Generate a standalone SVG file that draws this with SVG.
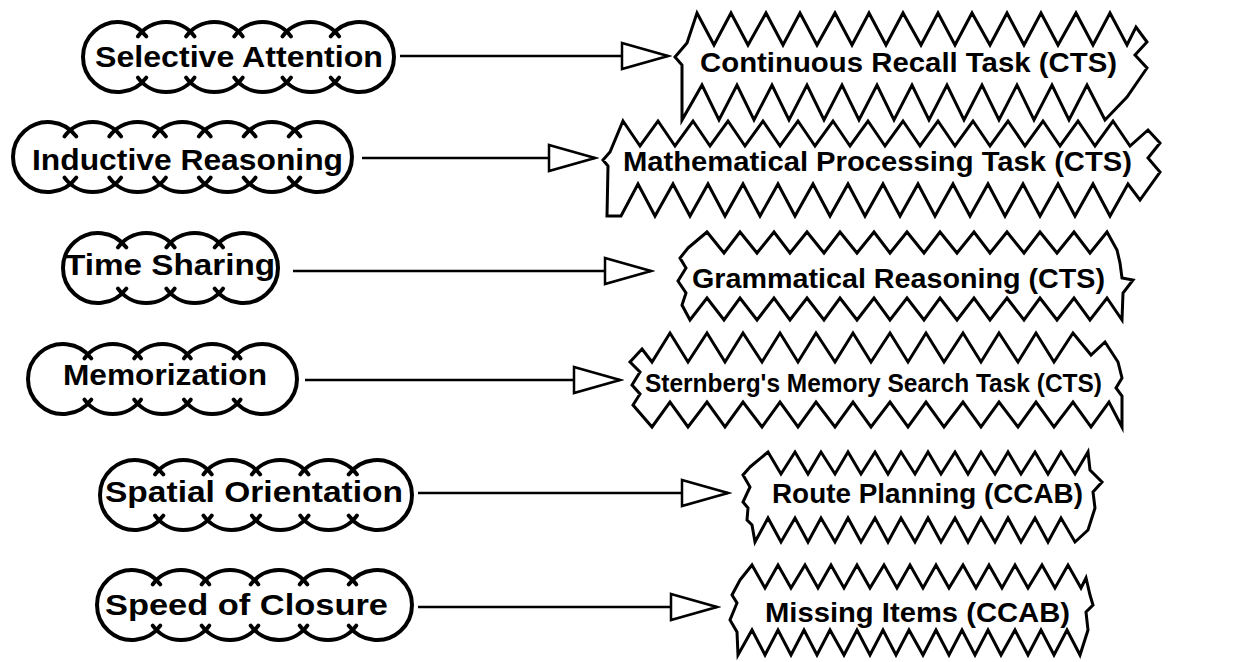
<svg xmlns="http://www.w3.org/2000/svg" xmlns:xlink="http://www.w3.org/1999/xlink" width="1233" height="662" viewBox="0 0 1233 662">
<style>
  .bg { fill: #ffffff; }
  .cloud use { fill: none; stroke: #000; stroke-width: 4; stroke-linecap: round; }
  .zig { fill: #ffffff; stroke: #000; stroke-width: 3; stroke-linejoin: miter; stroke-miterlimit: 10; }
  .lbl { font-family: "Liberation Sans", Arial, Helvetica, sans-serif; font-weight: bold; fill: #000; }
  .ltxt { font-size: 30px; }
  .rtxt { font-size: 27px; }
  .stxt { font-size: 26px; }
  .conn line { stroke: #000; stroke-width: 2.5; marker-end: url(#tri); }
</style>
<defs>
  <path id="cm" d="M-28.3,-20.6 A35,35 0 0 1 28.3,-20.6 M-28.3,20.6 A35,35 0 0 0 28.3,20.6"/>
  <path id="cl" d="M28.3,-20.6 A35,35 0 1 0 28.3,20.6"/>
  <path id="cr" d="M-28.3,-20.6 A35,35 0 1 1 -28.3,20.6"/>
  <marker id="tri" markerUnits="userSpaceOnUse" markerWidth="52" markerHeight="32" viewBox="0 0 52 32" refX="48" refY="16" orient="auto">
    <path d="M2,3 L48,16 L2,29 Z" fill="#fff" stroke="#000" stroke-width="2.5" stroke-linejoin="miter"/>
  </marker>
</defs>
<rect class="bg" x="0" y="0" width="1233" height="662"/>

<g id="connectors" class="conn">
  <line x1="400" y1="56" x2="668" y2="56"/>
  <line x1="362" y1="158" x2="595" y2="158"/>
  <line x1="293" y1="271" x2="651" y2="271"/>
  <line x1="305" y1="380" x2="620" y2="380"/>
  <line x1="418" y1="493" x2="728" y2="493"/>
  <line x1="418" y1="607" x2="717" y2="607"/>
</g>

<g id="selective-attention" class="cloud">
  <use href="#cl" x="118" y="57"/><use href="#cm" x="166.2" y="57"/><use href="#cm" x="214.4" y="57"/><use href="#cm" x="262.6" y="57"/><use href="#cm" x="310.8" y="57"/><use href="#cr" x="359" y="57"/>
  <text class="lbl ltxt" x="95" y="67" textLength="288" lengthAdjust="spacingAndGlyphs">Selective Attention</text>
</g>
<g id="inductive-reasoning" class="cloud">
  <use href="#cl" x="48" y="157"/><use href="#cm" x="92.8" y="157"/><use href="#cm" x="137.6" y="157"/><use href="#cm" x="182.4" y="157"/><use href="#cm" x="227.2" y="157"/><use href="#cm" x="272" y="157"/><use href="#cr" x="317" y="157"/>
  <text class="lbl ltxt" x="32" y="170" textLength="311" lengthAdjust="spacingAndGlyphs">Inductive Reasoning</text>
</g>
<g id="time-sharing" class="cloud">
  <use href="#cl" x="98" y="268"/><use href="#cm" x="146.3" y="268"/><use href="#cm" x="194.7" y="268"/><use href="#cr" x="243" y="268"/>
  <text class="lbl ltxt" x="65" y="275" textLength="210" lengthAdjust="spacingAndGlyphs">Time Sharing</text>
</g>
<g id="memorization" class="cloud">
  <use href="#cl" x="63" y="379"/><use href="#cm" x="112.75" y="379"/><use href="#cm" x="162.5" y="379"/><use href="#cm" x="212.25" y="379"/><use href="#cr" x="262" y="379"/>
  <text class="lbl ltxt" x="63" y="385" textLength="204" lengthAdjust="spacingAndGlyphs">Memorization</text>
</g>
<g id="spatial-orientation" class="cloud">
  <use href="#cl" x="135" y="495"/><use href="#cm" x="183.4" y="495"/><use href="#cm" x="231.8" y="495"/><use href="#cm" x="280.2" y="495"/><use href="#cm" x="328.6" y="495"/><use href="#cr" x="377" y="495"/>
  <text class="lbl ltxt" x="105" y="502" textLength="298" lengthAdjust="spacingAndGlyphs">Spatial Orientation</text>
</g>
<g id="speed-of-closure" class="cloud">
  <use href="#cl" x="132" y="605"/><use href="#cm" x="181" y="605"/><use href="#cm" x="230" y="605"/><use href="#cm" x="279" y="605"/><use href="#cm" x="328" y="605"/><use href="#cr" x="377" y="605"/>
  <text class="lbl ltxt" x="105" y="615" textLength="283" lengthAdjust="spacingAndGlyphs">Speed of Closure</text>
</g>

<g id="continuous-recall">
  <polygon class="zig" points="697,13 714,45 731,13 748,45 766,13 783,45 800,13 817,45 835,13 852,45 869,13 886,45 903,13 921,45 938,13 955,45 972,13 990,45 1007,13 1024,45 1041,13 1058,45 1076,13 1093,45 1110,13 1127,45 1136,27 1147,42 1135,55 1147,68 1127,97 1105,120 1087,85 1069,120 1052,85 1034,120 1017,85 999,120 982,85 964,120 947,85 929,120 912,85 894,120 877,85 859,120 842,85 824,120 807,85 789,120 772,85 754,120 737,85 719,120 702,85 682,120 682,65 675,57 687,43"/>
  <text class="lbl rtxt" x="700" y="72" textLength="417" lengthAdjust="spacingAndGlyphs">Continuous Recall Task (CTS)</text>
</g>
<g id="mathematical-processing">
  <polygon class="zig" points="623,121 640,146 658,121 675,146 693,121 710,146 728,121 745,146 763,121 780,146 798,121 815,146 833,121 850,146 868,121 885,146 903,121 920,146 938,121 955,146 973,121 990,146 1008,121 1025,146 1043,121 1060,146 1078,121 1095,146 1113,121 1130,146 1148,130 1160,143 1148,158 1160,172 1140,200 1128,184 1110,216 1093,184 1075,216 1058,184 1040,216 1023,184 1005,216 988,184 970,216 953,184 935,216 918,184 900,216 883,184 865,216 848,184 830,216 813,184 795,216 778,184 760,216 743,184 725,216 708,184 690,216 673,184 655,216 638,184 621,216 607,216 608,166 603,160 610,152"/>
  <text class="lbl rtxt" x="623" y="171" textLength="509" lengthAdjust="spacingAndGlyphs">Mathematical Processing Task (CTS)</text>
</g>
<g id="grammatical-reasoning">
  <polygon class="zig" points="688,248 707,232 724,253 740,232 757,253 774,232 790,253 807,232 824,253 840,232 857,253 874,232 890,253 907,232 924,253 940,232 957,253 974,232 990,253 1007,232 1024,253 1040,232 1057,253 1074,232 1090,253 1107,232 1117,250 1120,263 1122,278 1133,280 1123,293 1122,320 1107,298 1090,320 1074,298 1057,320 1040,298 1024,320 1007,298 990,320 974,298 957,320 940,298 924,320 907,298 890,320 874,298 857,320 840,298 824,320 807,298 790,320 774,298 757,320 740,298 724,320 707,298 690,320 682,305 686,293 678,281 686,268 680,258"/>
  <text class="lbl rtxt" x="692" y="288" textLength="413" lengthAdjust="spacingAndGlyphs">Grammatical Reasoning (CTS)</text>
</g>
<g id="sternberg-memory-search">
  <polygon class="zig" points="642,349 652,362 670,333 688,362 707,333 725,362 743,333 762,362 780,333 798,362 816,333 835,362 853,333 871,362 890,333 908,362 926,333 944,362 963,333 981,362 999,333 1018,362 1036,333 1054,362 1073,333 1091,355 1105,342 1118,362 1122,378 1116,388 1122,396 1122,427 1109,402 1091,427 1073,402 1054,427 1036,402 1018,427 999,402 981,427 963,402 944,427 926,402 908,427 890,402 871,427 853,402 835,427 816,402 798,427 780,402 762,427 743,402 725,427 707,402 688,427 670,402 652,427 633,405 640,394 632,385 640,372 630,362"/>
  <text class="lbl stxt" x="645" y="392" textLength="457" lengthAdjust="spacingAndGlyphs">Sternberg's Memory Search Task (CTS)</text>
</g>
<g id="route-planning">
  <polygon class="zig" points="750,467 768,452 781,474 795,452 808,474 821,452 835,474 848,452 861,474 875,452 888,474 901,452 915,474 928,452 941,474 955,452 968,474 981,452 995,474 1008,452 1021,474 1035,452 1048,474 1061,452 1075,474 1088,452 1090,470 1102,482 1093,492 1095,508 1088,530 1075,542 1061,518 1048,542 1035,518 1021,542 1008,518 995,542 981,518 968,542 955,518 941,542 928,518 915,542 901,518 888,542 875,518 861,542 848,518 835,542 821,518 808,542 795,518 781,542 768,518 755,542 752,525 747,520 748,508 743,502 750,487 743,475"/>
  <text class="lbl rtxt" x="772" y="503" textLength="311" lengthAdjust="spacingAndGlyphs">Route Planning (CCAB)</text>
</g>
<g id="missing-items">
  <polygon class="zig" points="740,580 752,565 765,588 778,565 791,588 805,565 818,588 831,565 844,588 857,565 870,588 884,565 897,588 910,565 923,588 936,565 949,588 963,565 976,588 989,565 1002,588 1015,565 1028,588 1042,565 1055,588 1068,565 1081,588 1086,578 1090,595 1093,605 1086,612 1088,630 1080,655 1067,630 1054,655 1041,630 1028,655 1015,630 1001,655 988,630 975,655 962,630 949,655 936,630 923,655 909,630 896,655 883,630 870,655 857,630 844,655 830,630 817,655 804,630 791,655 778,630 765,655 752,630 738,655 737,632 730,620 737,603 732,595"/>
  <text class="lbl rtxt" x="765" y="622" textLength="305" lengthAdjust="spacingAndGlyphs">Missing Items (CCAB)</text>
</g>
</svg>
